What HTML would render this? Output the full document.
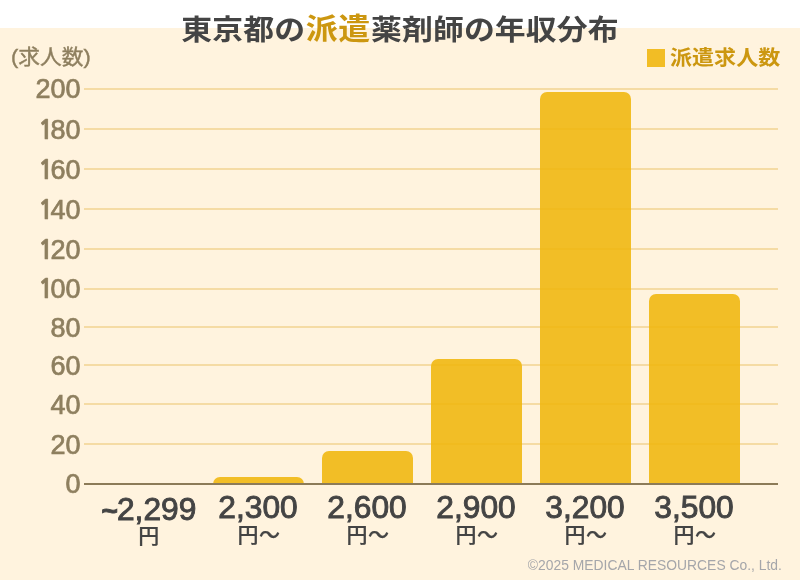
<!DOCTYPE html>
<html lang="ja">
<head>
<meta charset="utf-8">
<title>東京都の派遣薬剤師の年収分布</title>
<style>
*{margin:0;padding:0;box-sizing:border-box}
html,body{width:800px;height:580px;overflow:hidden;background:#fff}
body{position:relative;font-family:"Liberation Sans","Noto Sans CJK JP",sans-serif}
.bg{position:absolute;left:0;top:28px;width:800px;height:552px;background:#fff3de}
.title{position:absolute;left:0;top:7.7px;width:800px;text-align:center;font-size:28.3px;line-height:44px;font-weight:700;color:#444;letter-spacing:.1px;white-space:nowrap;transform:scaleX(1.09);transform-origin:400px 50%}
.title b{color:#cc9710;font-weight:700;font-size:29.3px;letter-spacing:.7px;margin-left:.5px;position:relative;top:-.3px}
.unit{position:absolute;left:10.9px;top:42px;font-size:21px;line-height:30px;font-weight:400;color:#8e7f5f;white-space:nowrap;-webkit-text-stroke:.4px #8e7f5f;transform:scaleX(1.035);transform-origin:0 50%}
.legend{position:absolute;left:670px;top:42.2px;font-size:20.8px;line-height:32px;font-weight:700;color:#cc9710;white-space:nowrap;transform:scaleX(1.06);transform-origin:0 50%}
.sq{position:absolute;left:647px;top:49px;width:18px;height:18px;background:#f2bd25}
.grid{position:absolute;left:84.4px;width:693.6px;height:2px;background:#f5dba4}
.axis{position:absolute;left:84.4px;top:483px;width:693.6px;height:2px;background:#8c7b58}
.yl{position:absolute;left:0;width:80.6px;text-align:right;font-size:27px;line-height:30px;color:#8e7f5f;white-space:nowrap;-webkit-text-stroke:0.7px #8e7f5f}
.yl.o::first-letter{font-family:"NanumGothic","Liberation Sans",sans-serif;font-weight:700;-webkit-text-stroke:0 #8e7f5f;font-size:25.7px;margin:0 -3px 0 0}
.bar{position:absolute;width:91px;background:#f0b60c;border-radius:7px 7px 0 0;opacity:.88}
.xl{position:absolute;width:140px;text-align:center;font-size:30.6px;line-height:34px;color:#444;top:491px;white-space:nowrap;letter-spacing:0;-webkit-text-stroke:0.9px #444;transform:translateY(-.6px) scaleX(1.038)}
.xl.t::first-letter{font-size:27px;font-weight:700;-webkit-text-stroke:0 #444;margin-right:-1px}
.xs{position:absolute;width:140px;text-align:center;font-size:21px;line-height:26px;font-weight:500;color:#444;top:522px;white-space:nowrap;letter-spacing:.5px;text-indent:1.9px;-webkit-text-stroke:.25px #444}
.copy{position:absolute;right:18px;top:554.6px;font-size:15.5px;line-height:20px;color:#a5a6aa;white-space:nowrap;transform:scaleX(.895);transform-origin:100% 50%}
</style>
</head>
<body>
<div class="bg"></div>
<div class="title">東京都の<b>派遣</b>薬剤師の年収分布</div>
<div class="unit">(求人数)</div>
<div class="sq"></div>
<div class="legend">派遣求人数</div>

<div class="grid" style="top:88px"></div>
<div class="grid" style="top:128px"></div>
<div class="grid" style="top:168px"></div>
<div class="grid" style="top:208px"></div>
<div class="grid" style="top:248px"></div>
<div class="grid" style="top:288px"></div>
<div class="grid" style="top:326px"></div>
<div class="grid" style="top:364px"></div>
<div class="grid" style="top:403px"></div>
<div class="grid" style="top:443px"></div>

<div class="yl" style="top:74px">200</div>
<div class="yl o" style="top:115px">180</div>
<div class="yl o" style="top:155px">160</div>
<div class="yl o" style="top:195px">140</div>
<div class="yl o" style="top:235px">120</div>
<div class="yl o" style="top:274px">100</div>
<div class="yl" style="top:313px">80</div>
<div class="yl" style="top:351px">60</div>
<div class="yl" style="top:390px">40</div>
<div class="yl" style="top:430px">20</div>
<div class="yl" style="top:469px">0</div>

<div class="bar" style="left:213px;top:477px;height:7px"></div>
<div class="bar" style="left:322px;top:451px;height:33px"></div>
<div class="bar" style="left:431px;top:359px;height:125px"></div>
<div class="bar" style="left:540px;top:92px;height:392px"></div>
<div class="bar" style="left:649px;top:294px;height:190px"></div>
<div class="axis"></div>

<div class="xl t" style="left:78.5px;top:492.5px">~2,299</div>
<div class="xl" style="left:188px">2,300</div>
<div class="xl" style="left:297px">2,600</div>
<div class="xl" style="left:406px">2,900</div>
<div class="xl" style="left:515px">3,200</div>
<div class="xl" style="left:624px">3,500</div>

<div class="xs" style="left:78px;top:523px">円</div>
<div class="xs" style="left:188px">円〜</div>
<div class="xs" style="left:297px">円〜</div>
<div class="xs" style="left:406px">円〜</div>
<div class="xs" style="left:515px">円〜</div>
<div class="xs" style="left:624px">円〜</div>

<div class="copy">©2025 MEDICAL RESOURCES Co., Ltd.</div>
</body>
</html>
